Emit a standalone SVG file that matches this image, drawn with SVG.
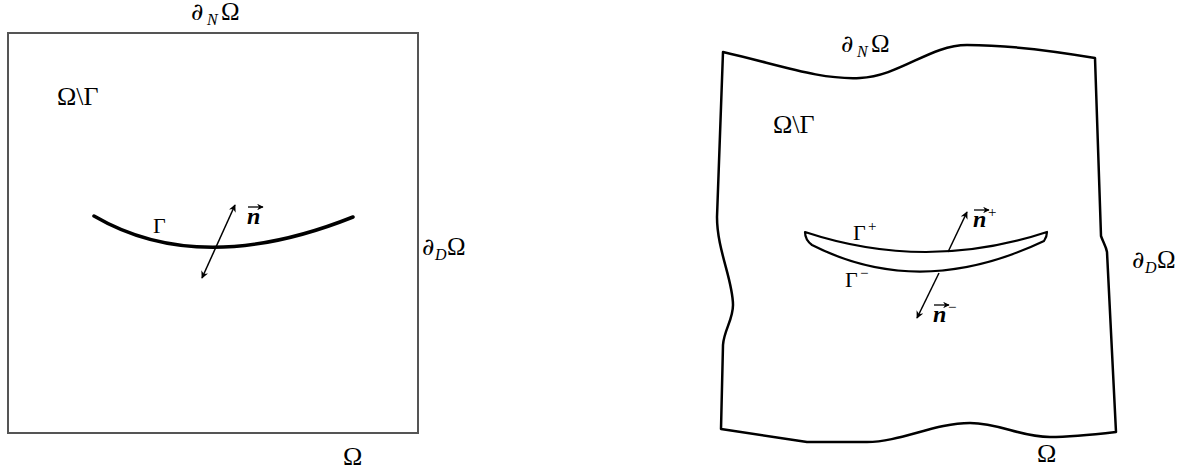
<svg xmlns="http://www.w3.org/2000/svg" width="1188" height="471" viewBox="0 0 1188 471">
<defs>
<style>
.t{font-family:"Liberation Serif","DejaVu Serif",serif;fill:#000}
.d{font-family:"DejaVu Serif",serif;font-style:italic;font-size:24px;fill:#000}
.lg{font-size:26px}
.md{font-size:22px}
.sub{font-size:16px;font-style:italic}
.it{font-style:italic}
.vec{font-style:italic;font-weight:bold;font-size:24px}
.sup{font-size:15px}
.acc{stroke:#000;stroke-width:1.3;fill:none;marker-end:url(#ah)}
.arr{stroke:#000;stroke-width:1.5;fill:none}
</style>
<marker id="ah" viewBox="0 0 10 10" refX="9" refY="5" markerWidth="5" markerHeight="5" orient="auto-start-reverse">
<path d="M0,0 L10,5 L0,10 L3,5 Z" fill="#000"/>
</marker>
</defs>
<rect width="1188" height="471" fill="#fff"/>

<g id="left-domain">
<rect x="8" y="33" width="410" height="400" fill="none" stroke="#555" stroke-width="2"/>
<path d="M94,216 Q200,278 353,217" fill="none" stroke="#000" stroke-width="3.5" stroke-linecap="round"/>
</g>
<g id="left-labels">
<text class="d" x="191" y="20">∂</text>
<text class="t sub" x="207" y="25">N</text>
<text class="t" x="221" y="20" font-size="25">Ω</text>
<text class="t lg" x="57" y="105">Ω\Γ</text>
<text class="t md" x="153" y="233">Γ</text>
<text class="t vec" x="247" y="224">n</text>
<line class="acc" x1="248" y1="207" x2="263" y2="207"/>
<text class="d" x="422" y="255">∂</text>
<text class="t sub" x="435" y="260">D</text>
<text class="t" x="447" y="255" font-size="25">Ω</text>
<text class="t lg" x="343" y="465">Ω</text>
</g>

<g id="right-domain">
<path d="M723,52 C780,65 820,80 860,78 C900,76 930,45 967,45 C1010,45 1060,52 1095,58 L1101,236 C1103,242 1106,246 1107,252 L1116,432 C1090,435 1070,437 1050,437 C1020,437 1000,423 970,423 C935,423 900,442 867,442 L807,442 L721,429 L723,345 C724,330 733,320 733,305 C733,280 717,250 717,217 Z" fill="none" stroke="#000" stroke-width="2.5" stroke-linejoin="round"/>
<path d="M805,232 Q926,272 1047,232 C1047,235 1046,238 1044,241 Q920,300 812,245 C808,242 805,238 805,232 Z" fill="none" stroke="#000" stroke-width="2.2" stroke-linejoin="round"/>
</g>
<g id="right-labels">
<text class="d" x="841" y="52">∂</text>
<text class="t sub" x="857" y="57">N</text>
<text class="t" x="871" y="52" font-size="25">Ω</text>
<text class="t lg" x="773" y="133">Ω\Γ</text>
<text class="t md" x="853" y="240">Γ</text>
<text class="t sup" x="868" y="231">+</text>
<text class="t md" x="845" y="287">Γ</text>
<text class="t sup" x="860" y="278">−</text>
<text class="t vec" x="973" y="227">n</text>
<text class="t sup" x="988" y="217">+</text>
<line class="acc" x1="974" y1="210" x2="989" y2="210"/>
<text class="t vec" x="933" y="322">n</text>
<text class="t sup" x="948" y="312">−</text>
<line class="acc" x1="934" y1="305" x2="949" y2="305"/>
<text class="d" x="1132" y="268">∂</text>
<text class="t sub" x="1145" y="273">D</text>
<text class="t" x="1157" y="268" font-size="25">Ω</text>
<text class="t lg" x="1037" y="462">Ω</text>
</g>

<g id="connectors">
<line class="arr" x1="202" y1="278" x2="235" y2="205" marker-start="url(#ah)" marker-end="url(#ah)"/>
<line class="arr" x1="948" y1="252" x2="967" y2="212" marker-end="url(#ah)"/>
<line class="arr" x1="939" y1="273" x2="917" y2="318" marker-end="url(#ah)"/>
</g>
</svg>
